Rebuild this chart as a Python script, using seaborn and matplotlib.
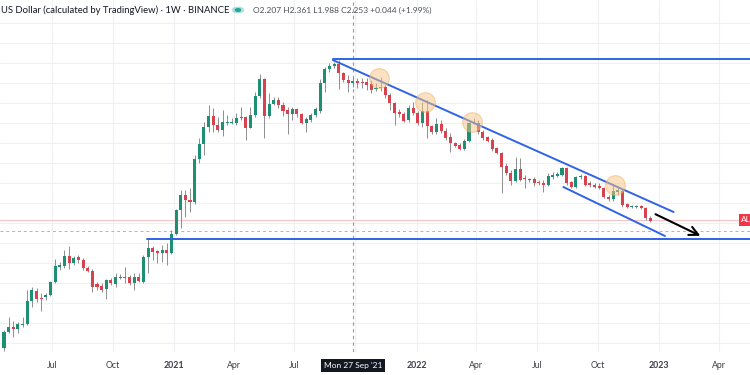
import pandas as pd
import seaborn as sns
import matplotlib.pyplot as plt

# weekly candles, price in chart units (no price axis is shown)
week_start = "2020-04-20"
opens = [27, 43, 48, 46, 50, 51, 74, 84, 77, 78, 80, 93, 108, 109, 119, 112, 118, 115, 107, 104,
         91, 89, 86, 95, 91, 97, 98, 98, 92, 98, 93, 118, 127, 124, 122, 125, 122, 141, 165, 180,
         175, 173, 216, 231, 248, 259, 250, 245, 252, 252, 252, 257, 258, 247, 260, 279, 296, 259, 271, 275,
         270, 265, 261, 266, 261, 252, 255, 260, 264, 292, 306, 309, 311, 302, 295, 292, 294, 293, 293, 291,
         286, 287, 288, 280, 272, 263, 261, 255, 267, 262, 252, 264, 249, 243, 251, 244, 238, 232, 230, 226,
         234, 252, 252, 243, 238, 235, 227, 222, 209, 202, 194, 206, 197, 195, 196, 193, 192, 190, 198, 199,
         200, 207, 193, 188, 198, 199, 192, 190, 189, 187, 178, 176, 183, 184, 171, 168, 168, 169, 167, 157]
highs = [45, 58, 54, 53, 58, 85, 88, 87, 82, 82, 94, 116, 113, 125, 129, 119, 120, 117, 109, 106,
         93, 92, 96, 97, 102, 101, 108, 100, 102, 102, 120, 137, 129, 125, 130, 132, 145, 166, 185, 185,
         187, 220, 237, 253, 270, 267, 258, 265, 260, 257, 262, 268, 259, 268, 283, 301, 297, 282, 278, 278,
         273, 268, 268, 267, 262, 258, 262, 268, 296, 308, 312, 313, 315, 303, 300, 298, 297, 297, 297, 295,
         292, 298, 290, 282, 273, 266, 263, 270, 273, 264, 273, 275, 250, 257, 255, 247, 242, 233, 232, 236,
         253, 257, 255, 245, 239, 237, 228, 223, 212, 205, 218, 217, 200, 197, 198, 195, 195, 202, 203, 203,
         208, 208, 194, 199, 201, 200, 194, 192, 192, 188, 180, 190, 189, 186, 172, 170, 170, 170, 168, 159]
lows = [24, 42, 38, 42, 48, 50, 68, 73, 64, 75, 79, 92, 105, 107, 106, 110, 112, 105, 103, 83,
        85, 83, 76, 90, 88, 96, 92, 90, 85, 93, 92, 102, 115, 112, 113, 110, 121, 140, 147, 158,
        163, 171, 212, 220, 243, 243, 243, 239, 250, 251, 250, 255, 235, 247, 258, 277, 237, 257, 270, 267,
        259, 241, 255, 258, 251, 243, 253, 258, 262, 283, 303, 307, 286, 293, 283, 288, 287, 287, 285, 282,
        284, 284, 277, 265, 250, 258, 253, 253, 260, 250, 248, 237, 241, 241, 242, 235, 223, 228, 225, 225,
        233, 251, 241, 235, 233, 224, 221, 182, 200, 190, 193, 194, 187, 193, 189, 190, 183, 189, 196, 198,
        199, 190, 187, 187, 196, 189, 188, 187, 186, 177, 174, 174, 180, 168, 167, 167, 167, 166, 155, 153]
closes = [43, 48, 46, 51, 51, 74, 85, 76, 76, 80, 93, 109, 110, 119, 112, 117, 115, 107, 104, 88,
          88, 85, 95, 92, 98, 98, 97, 92, 98, 94, 118, 127, 123, 122, 125, 122, 141, 165, 180, 175,
          173, 216, 231, 248, 259, 250, 245, 253, 253, 253, 257, 258, 247, 260, 279, 296, 259, 271, 275, 270,
          264, 261, 266, 261, 252, 256, 260, 266, 292, 306, 309, 311, 302, 295, 292, 294, 292, 292, 290, 285,
          287, 288, 280, 272, 262, 261, 254, 267, 262, 252, 264, 249, 243, 251, 244, 237, 232, 229, 226, 234,
          252, 253, 243, 237, 234, 226, 222, 208, 202, 194, 206, 195, 196, 196, 192, 192, 190, 199, 200, 201,
          207, 192, 188, 198, 199, 190, 190, 188, 187, 178, 176, 184, 185, 170, 168, 169, 169, 167, 157, 154]

# drawing annotations (dates, chart units)
resistance_level = 316
support_level = 136
trend_dates = ["2021-08-28", "2023-01-23"]
trend_values = [315, 163]
channel_dates = ["2022-08-10", "2023-01-10"]
channel_values = [188, 139]
arrow_dates = ["2022-12-23", "2023-03-08"]
arrow_values = [162, 138]
touch_dates = ["2021-11-05", "2022-01-14", "2022-03-26", "2022-10-27"]
touch_values = [297, 273, 253, 190]
last_price = 155
ref_price = 144

tick_dates = ["2020-07-01", "2020-10-01", "2021-01-01", "2021-04-01", "2021-07-01", "2021-10-01",
              "2022-01-01", "2022-04-01", "2022-07-01", "2022-10-01", "2023-01-01", "2023-04-01"]
tick_labels = ["Jul", "Oct", "2021", "Apr", "Jul", "", "2022", "Apr", "Jul", "Oct", "2023", "Apr"]

df = pd.DataFrame({"open": opens, "high": highs, "low": lows, "close": closes})
df["date"] = pd.date_range(week_start, periods=len(df), freq="7D")
df["up"] = df["close"] >= df["open"]

sns.set_theme(style="white")
plt.rcParams["font.family"] = ["Lato", "DejaVu Sans"]

fig = plt.figure(figsize=(7.5, 3.75), dpi=100)
ax = fig.add_axes([0, 23 / 375, 1, 352 / 375])

green = "#1f8f74"
red = "#d8424f"
blue = "#2f63e6"

# wicks and bodies
ax.vlines(df["date"], df["low"], df["high"], color="#8e8e8e", lw=0.7, zorder=2)
body_bottom = df[["open", "close"]].min(axis=1)
body_height = (df["close"] - df["open"]).abs().clip(lower=1.2)
ax.bar(df["date"], body_height, bottom=body_bottom, width=4.6,
       color=[green if u else red for u in df["up"]], linewidth=0, zorder=3)

# price lines
ax.axhline(last_price, color="#f6c3c7", lw=0.8, zorder=1)
ax.axhline(ref_price, color="#e3a28f", lw=0.7, ls=(0, (3, 3)), zorder=1)

# crosshair
cross = pd.Timestamp("2021-09-27")
ax.axvline(cross, color="#9598a1", lw=0.8, ls=(0, (3, 3)), zorder=1)

# drawings
end = pd.Timestamp("2023-06-01")
ax.plot([pd.Timestamp(trend_dates[0]), end], [resistance_level, resistance_level], color=blue, lw=1.4, zorder=4)
ax.plot([pd.Timestamp("2020-11-21"), end], [support_level, support_level], color=blue, lw=1.4, zorder=4)
ax.plot(pd.to_datetime(trend_dates), trend_values, color=blue, lw=1.4, zorder=4)
ax.plot(pd.to_datetime(channel_dates), channel_values, color=blue, lw=1.4, zorder=4)
ax.annotate("", xy=(pd.Timestamp(arrow_dates[1]), arrow_values[1]),
            xytext=(pd.Timestamp(arrow_dates[0]), arrow_values[0]),
            arrowprops=dict(arrowstyle="->", color="black", lw=1.5, mutation_scale=16), zorder=5)

sns.scatterplot(x=pd.to_datetime(touch_dates), y=touch_values, s=200, color="#f7c486",
                alpha=0.5, edgecolor="#eeae5c", linewidth=0.8, ax=ax, zorder=6, legend=False)

# axes
ax.set_xlim(pd.Timestamp("2020-04-14"), pd.Timestamp("2023-05-18"))
ax.set_ylim(23, 375)
ax.set_yticks(range(32, 353, 20))
ax.set_yticklabels([])
ax.set_xticks(pd.to_datetime(tick_dates))
ax.set_xticklabels(tick_labels)
ax.grid(True, color="#eef0f4", lw=0.8)
ax.set_axisbelow(True)
ax.tick_params(axis="x", length=0, pad=6.5, labelsize=6.3, labelcolor="#3a3d45")
ax.tick_params(axis="y", length=0)
for lbl in ax.get_xticklabels():
    if lbl.get_text().isdigit():
        lbl.set_fontweight("bold")
for s in ax.spines.values():
    s.set_visible(False)
ax.set_xlabel("")
ax.set_ylabel("")

ax.annotate("Mon 27 Sep '21", xy=(cross, 0), xycoords=("data", "axes fraction"),
            xytext=(0, -9.5), textcoords="offset points", ha="center", va="center",
            fontsize=6, color="white",
            bbox=dict(boxstyle="square,pad=0.35", fc="#131722", ec="none"))

# header
fig.text(0.001, 1 - 10 / 375, "US Dollar (calculated by TradingView) · 1W · BINANCE",
         fontsize=6.8, color="#131722", va="center")
fig.patches.append(plt.Circle((238 / 750, 1 - 10 / 375), 0.0075, transform=fig.transFigure,
                              color="#26a69a", alpha=0.25))
fig.patches.append(plt.Circle((238 / 750, 1 - 10 / 375), 0.0035, transform=fig.transFigure,
                              color="#26a69a"))
fig.text(253 / 750, 1 - 10 / 375, "O2.207 H2.361 L1.988 C2.253 +0.044 (+1.99%)",
         fontsize=6, color="#4a4e57", va="center")

# last price tag
fig.text(741 / 750, 1 - 220 / 375, "AL", fontsize=6, color="white", va="center",
         bbox=dict(boxstyle="square,pad=0.3", fc="#f23645", ec="none"))

fig.savefig("out.png", dpi=100)
